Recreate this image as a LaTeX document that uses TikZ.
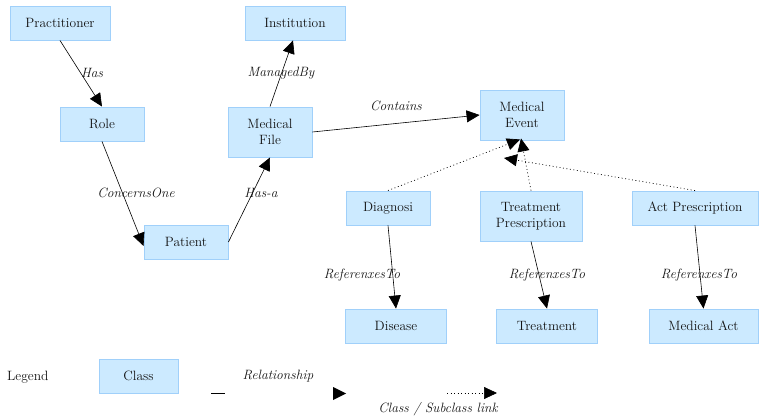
\documentclass[tikz,border=0pt]{standalone}
\usetikzlibrary{arrows.meta}
\definecolor{boxfill}{RGB}{204,234,255}
\definecolor{boxline}{RGB}{160,208,250}
\definecolor{txt}{RGB}{20,20,20}
\begin{document}
\begin{tikzpicture}[x=1pt,y=-1pt,
  cls/.style={draw=boxline, fill=boxfill, line width=0.9pt, inner sep=0pt, align=center,
              minimum height=34pt, text=txt, font=\rmfamily\fontsize{13.5}{16.5}\selectfont},
  lbl/.style={font=\rmfamily\fontsize{13.5}{15}\selectfont\itshape, text=txt, inner sep=0pt},
  plain/.style={font=\rmfamily\fontsize{13.5}{15}\selectfont, text=txt, inner sep=0pt},
  rel/.style={line width=0.6pt, -{Triangle[length=13pt,width=12pt]}},
  sub/.style={line width=0.7pt, dash pattern=on 0.9pt off 2.6pt, -{Triangle[length=13pt,width=12pt]}},
]
\useasboundingbox (0,0) rectangle (759,419);
\fill[white] (0,0) rectangle (759,419);

% classes
\node[cls, minimum width=100pt] (prac) at (60,23) {Practitioner};
\node[cls, minimum width=100pt] (inst) at (295,23) {Institution};
\node[cls, minimum width=84pt] (role) at (102,124) {Role};
\node[cls, minimum width=84pt, minimum height=50pt] (mf) at (270,132) {Medical\\File};
\node[cls, minimum width=84pt] (pat) at (186,242) {Patient};
\node[cls, minimum width=84pt, minimum height=50pt] (ev) at (522,115) {Medical\\Event};
\node[cls, minimum width=84pt] (diag) at (388,208) {Diagnosi};
\node[cls, minimum width=102pt, minimum height=50pt] (tp) at (531,216) {Treatment\\Prescription};
\node[cls, minimum width=126pt] (ap) at (695,208) {Act Prescription};
\node[cls, minimum width=101pt] (dis) at (396,326) {Disease};
\node[cls, minimum width=101pt] (tr) at (547,326) {Treatment};
\node[cls, minimum width=109pt] (ma) at (703.5,326) {Medical Act};

% relationships
\draw[rel] (prac.south) -- (role.north);
\draw[rel] (role.south) -- ([yshift=-4pt]pat.west);
\draw[rel] (pat.east) -- (mf.south);
\draw[rel] (mf.north) -- ([xshift=-2pt]inst.south);
\draw[rel] (mf.east) -- (ev.west);
\draw[rel] (diag.south) -- (dis.north);
\draw[rel] (tp.south) -- (tr.north);
\draw[rel] (ap.south) -- (ma.north);

% subclass links
\coordinate (apend) at (504,158);
\draw[sub] (diag.north) -- ([xshift=-2pt,yshift=1pt]ev.south);
\draw[sub] (tp.north) -- ([xshift=-1pt,yshift=2pt]ev.south);
\draw[sub] (ap.north) -- (apend);

% labels
\node[lbl] (lHas) at (92,73) {Has};
\node[lbl] (lCon) at (136,193) {ConcernsOne};
\node[lbl] (lHasa) at (261,193) {Has-a};
\node[lbl] (lMan) at (281,73) {ManagedBy};
\node[lbl] (lCont) at (396,106) {Contains};
\node[lbl] (lR1) at (362,275) {ReferenxesTo};
\node[lbl] (lR2) at (547,275) {ReferenxesTo};
\node[lbl] (lR3) at (699,275) {ReferenxesTo};

% legend
\node[plain, anchor=west] (leg) at (7,377) {Legend};
\node[cls, minimum width=79pt] (lcls) at (138.5,376) {Class};
\coordinate (ls1) at (211,393);
\coordinate (ls2) at (225,393);
\draw[line width=0.8pt] (ls1) -- (ls2);
\node[lbl] (lrel) at (278,376) {Relationship};
\coordinate (tri) at (333,387);
\fill (tri) -- ++(13,6.5) -- ++(-13,6.5) -- cycle;
\coordinate (ld1) at (447,393);
\coordinate (ld2) at (497,393);
\draw[sub] (ld1) -- (ld2);
\node[lbl] (lsub) at (438,409) {Class / Subclass link};
\end{tikzpicture}
\end{document}
